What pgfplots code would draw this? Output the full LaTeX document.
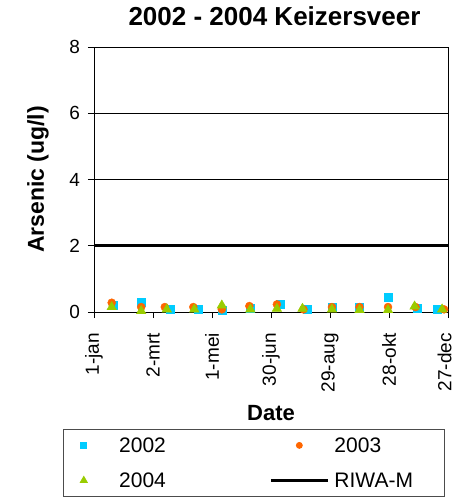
\documentclass[border=0pt]{standalone}
\usepackage{fontspec}
\setmainfont{Liberation Sans}
\usepackage{pgfplots}
\pgfplotsset{compat=1.18}
\definecolor{cA}{RGB}{0,204,255}
\definecolor{cB}{RGB}{255,102,0}
\definecolor{cC}{RGB}{153,204,0}
\pgfplotsset{
  legimgA/.style={legend image code/.code={\draw[##1, mark size=3pt] plot coordinates {(17pt,0pt)}; \path (0pt,0pt) (34pt,0pt);}},
  legimgB/.style={legend image code/.code={\draw[##1, mark size=3pt] plot coordinates {(28.5pt,0pt)}; \path (0pt,0pt) (57pt,0pt);}},
  legimgC/.style={legend image code/.code={\draw[##1, mark size=4pt] plot coordinates {(17pt,0pt)}; \path (0pt,0pt) (34pt,0pt);}},
  legimgL/.style={legend image code/.code={\draw[##1] (0pt,0pt) -- (57pt,0pt);}},
}
\begin{document}
\begin{tikzpicture}
\useasboundingbox (-94pt,-186pt) rectangle (361pt,312pt);
\begin{axis}[
  at={(0pt,0pt)}, anchor=south west,
  scale only axis, width=354pt, height=265pt,
  xmin=1, xmax=361, ymin=0, ymax=8,
  xtick={1,61,121,181,241,301,361},
  xticklabels={1-jan,2-mrt,1-mei,30-jun,29-aug,28-okt,\raisebox{3.5pt}[\height][\depth]{27-dec}},
  ytick={0,2,4,6,8},
  ymajorgrids, grid style={black, line width=0.7pt},
  axis line style={black, line width=0.8pt},
  tick pos=left, tick align=outside, major tick length=6pt,
  tick style={black, line width=0.8pt},
  /pgf/number format/assume math mode=true,
  xticklabel shift=15pt,
  yticklabel shift=4.5pt,
  x tick label style={rotate=90, anchor=east, inner sep=0pt, font=\fontsize{19}{22}\selectfont},
  y tick label style={font=\fontsize{19}{22}\selectfont},
  title={2002 - 2004 Keizersveer},
  title style={at={(axis description cs:0.51,1.0604)}, anchor=base, font=\bfseries\fontsize{26}{30}\selectfont},
  xlabel={Date},
  xlabel style={at={(axis description cs:0.5,-0.411)}, anchor=base, font=\bfseries\fontsize{22}{26}\selectfont},
  ylabel={Arsenic (ug/l)},
  ylabel style={at={(axis description cs:-0.158,0.5)}, anchor=center, font=\bfseries\fontsize{23}{27}\selectfont},
  legend columns=2,
  legend style={at={(axis description cs:-0.0876,-0.4415)}, anchor=north west,
    draw=black!70, line width=0.8pt, inner xsep=3pt, inner ysep=8.5pt,
    font=\fontsize{21}{25}\selectfont,
    nodes={text width=107pt, text height=15pt, text depth=0pt, inner sep=0pt, anchor=west},
    /tikz/row sep=20pt,
    /tikz/column 1/.style={column sep=18pt},
    /tikz/column 2/.style={column sep=43pt},
    /tikz/column 3/.style={column sep=5pt}},
]
\addplot[only marks, mark=square*, mark size=4pt, color=cA, legimgA]
  coordinates {(21,0.22) (49,0.29) (78,0.08) (107,0.08) (131,0.06) (160,0.10) (190,0.23) (218,0.08) (243,0.15) (271,0.15) (300,0.46) (330,0.12) (350,0.08)};
\addlegendentry{2002}
\addplot[only marks, mark=*, mark size=4pt, color=cB, legimgB]
  coordinates {(19,0.28) (49,0.15) (73,0.15) (102,0.15) (131,0.08) (159,0.18) (187,0.23) (214,0.08) (243,0.15) (271,0.15) (300,0.15) (328,0.15) (357,0.08)};
\addlegendentry{2003}
\addplot[only marks, mark=triangle*, mark size=5.5pt, color=cC, legimgC]
  coordinates {(19,0.15) (49,0.03) (75,0.08) (103,0.08) (131,0.20) (160,0.08) (187,0.10) (213,0.10) (243,0.08) (271,0.06) (300,0.06) (327,0.17) (355,0.08)};
\addlegendentry{2004}
\addplot[black, line width=3.3pt, legimgL]
  coordinates {(1,2) (361,2)};
\addlegendentry{RIWA-M}
\end{axis}
\end{tikzpicture}
\end{document}
